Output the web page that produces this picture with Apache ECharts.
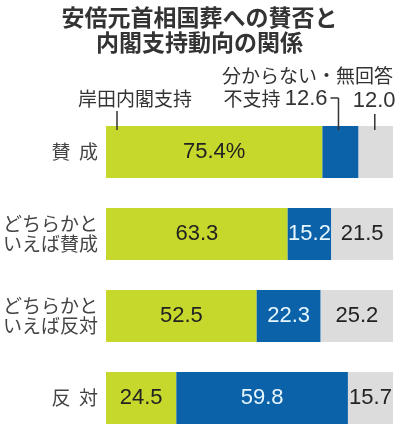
<!DOCTYPE html>
<html>
<head>
<meta charset="utf-8">
<script src="https://cdn.jsdelivr.net/npm/echarts@6/dist/echarts.min.js"></script>
<style>
html,body{margin:0;padding:0;background:#fff;}
#main{width:399px;height:439px;}
</style>
</head>
<body>
<div id="main"></div>
<script>
var categories = ['賛  成', 'どちらかと\nいえば賛成', 'どちらかと\nいえば反対', '反  対'];
var support = [75.4, 63.3, 52.5, 24.5];      // 岸田内閣支持
var noSupport = [12.6, 15.2, 22.3, 59.8];    // 不支持
var unknown = [12.0, 21.5, 25.2, 15.7];      // 分からない・無回答

var numFont = '"Liberation Sans", Arial, sans-serif';
var jpFont = '"Noto Sans CJK JP", sans-serif';

function items(arr, hideFirst, suffix){
	return arr.map(function(v, i){
		var o = {value: v};
		if(i == 0 && hideFirst) o.label = {show: false};
		if(i == 0 && suffix) o.label = {formatter: v.toFixed(1) + suffix};
		return o;
	});
}

var myChart = echarts.init(document.getElementById('main'));
myChart.setOption({
	animation: false,
	backgroundColor: '#fff',
	title: {
		text: '安倍元首相国葬への賛否と\n内閣支持動向の関係',
		left: 'center',
		top: 5,
		padding: 0,
		textStyle: {
			fontFamily: jpFont,
			fontSize: 23,
			fontWeight: 'bold',
			color: '#333',
			lineHeight: 25
		}
	},
	grid: {left: 106, width: 287, top: 111, height: 335},
	xAxis: {type: 'value', min: 0, max: 100, show: false},
	yAxis: {
		type: 'category',
		inverse: true,
		data: categories,
		axisLine: {show: false},
		axisTick: {show: false},
		axisLabel: {
			margin: 8,
			fontFamily: jpFont,
			fontSize: 19,
			lineHeight: 20,
			color: '#444'
		}
	},
	series: [
	{
		name: '岸田内閣支持', type: 'bar', stack: 'a', barWidth: 52,
		itemStyle: {color: '#c6d82c'},
		label: {show: true, position: 'inside', color: '#222', fontFamily: numFont, fontSize: 22,
			formatter: function(p){ return p.value.toFixed(1); }},
		data: items(support, false, '%')
	},
	{
		name: '不支持', type: 'bar', stack: 'a', barWidth: 52,
		itemStyle: {color: '#0b62a8'},
		label: {show: true, position: 'inside', color: '#e6f6ff', fontFamily: numFont, fontSize: 22,
			formatter: function(p){ return p.value.toFixed(1); }},
		data: items(noSupport, true)
	},
	{
		name: '分からない・無回答', type: 'bar', stack: 'a', barWidth: 52,
		itemStyle: {color: '#dcdcdc'},
		label: {show: true, position: 'inside', color: '#222', fontFamily: numFont, fontSize: 22,
			formatter: function(p){ return p.value.toFixed(1); }},
		data: items(unknown, true)
	}
	]
});

// 上部の注記（1本目の棒から位置を取る）
var top0 = myChart.convertToPixel({gridIndex: 0}, [0, 0])[1] - 26;
var x0 = myChart.convertToPixel({gridIndex: 0}, [0, 0])[0];
var xBlue = myChart.convertToPixel({gridIndex: 0}, [support[0] + noSupport[0] / 2, 0])[0] - 2;
var xGray = myChart.convertToPixel({gridIndex: 0}, [support[0] + noSupport[0] + unknown[0] / 2, 0])[0] - 1;
var xEnd = myChart.convertToPixel({gridIndex: 0}, [100, 0])[0];
var lineStyle = {stroke: '#333', lineWidth: 1.5};
var txt = {fontFamily: jpFont, fontSize: 19, fill: '#333'};

myChart.setOption({
	graphic: [
		{type: 'text', left: x0 - 28, top: top0 - 37, style: Object.assign({text: '岸田内閣支持'}, txt), z: 10},
		{type: 'line', shape: {x1: x0 + 11, y1: top0 - 15, x2: x0 + 11, y2: top0 + 4}, style: lineStyle, z: 10},
		{type: 'text', right: 399 - xEnd, top: top0 - 60, style: Object.assign({text: '分からない・無回答'}, txt), z: 10},
		{type: 'text', right: 399 - xBlue + 11, top: top0 - 38, style: {
			text: '{a|不支持 }{b|' + noSupport[0].toFixed(1) + '}',
			rich: {a: txt, b: {fontFamily: numFont, fontSize: 22, fill: '#333'}}
		}, z: 10},
		{type: 'line', shape: {x1: xBlue - 8, y1: top0 - 28, x2: xBlue, y2: top0 - 28}, style: lineStyle, z: 10},
		{type: 'line', shape: {x1: xBlue, y1: top0 - 28, x2: xBlue, y2: top0 + 4}, style: lineStyle, z: 10},
		{type: 'text', left: xGray - 22, top: top0 - 36, style: {text: unknown[0].toFixed(1), fontFamily: numFont, fontSize: 22, fill: '#333'}, z: 10},
		{type: 'line', shape: {x1: xGray, y1: top0 - 12, x2: xGray, y2: top0 + 4}, style: lineStyle, z: 10}
	]
});
</script>
</body>
</html>
